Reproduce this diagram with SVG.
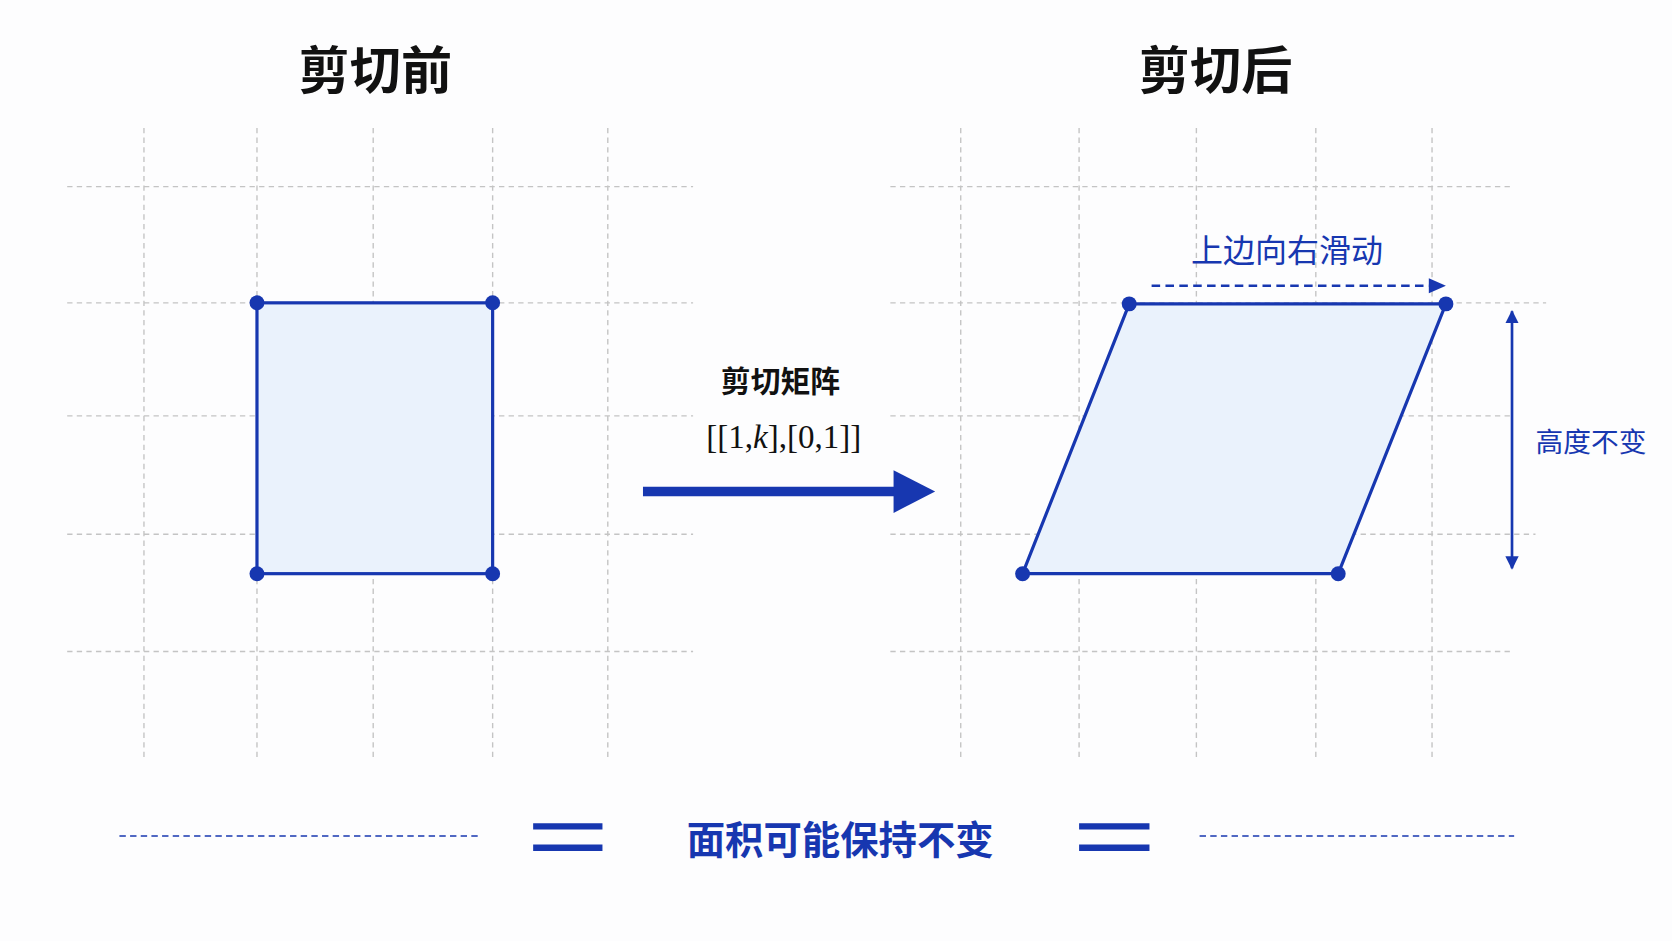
<svg xmlns="http://www.w3.org/2000/svg" width="1672" height="941" viewBox="0 0 1672 941">
<style>
.g{stroke:#c4c4c4;stroke-width:1.3;stroke-dasharray:5 4;fill:none}
.b{stroke:#1737b0;fill:none}
.t{font-family:"Noto Sans CJK SC",sans-serif}
.d{fill:#1737b0}
</style>
<defs>
<marker id="ah" viewBox="0 0 10 10" refX="9" refY="5" markerWidth="5" markerHeight="5" orient="auto-start-reverse"><path d="M0,0L10,5L0,10z" fill="#1737b0"/></marker>
</defs>
<rect width="1672" height="941" fill="#fdfdfe"/>
<g transform="scale(1.0663)">
<g id="grid-left">
<path class="g" d="M135,120V710M241,120V710M350,120V710M462,120V710M570,120V710M63,175H650M63,284H650M63,390H650M63,501H650M63,611H650"/>
</g>
<g id="grid-right">
<path class="g" d="M901,120V710M1012,120V710M1122,120V710M1234,120V710M1343,120V710M835,175H1420M835,284H1450M835,390H1420M835,501H1440M835,611H1420"/>
</g>
<g id="title-before"><text class="t" x="352" y="83" font-size="48" font-weight="700" text-anchor="middle" fill="#111">剪切前</text></g>
<g id="title-after"><text class="t" x="1140" y="83" font-size="48" font-weight="700" text-anchor="middle" fill="#111">剪切后</text></g>
<g id="rect">
<rect x="241" y="284" width="221" height="254" fill="#eaf2fc" stroke="#1737b0" stroke-width="3"/>
<circle class="d" cx="241" cy="284" r="7"/><circle class="d" cx="462" cy="284" r="7"/>
<circle class="d" cx="241" cy="538" r="7"/><circle class="d" cx="462" cy="538" r="7"/>
</g>
<g id="parallelogram">
<polygon points="1059,285 1356,285 1255,538 959,538" fill="#eaf2fc" stroke="#1737b0" stroke-width="3"/>
<circle class="d" cx="1059" cy="285" r="7"/><circle class="d" cx="1356" cy="285" r="7"/>
<circle class="d" cx="1255" cy="538" r="7"/><circle class="d" cx="959" cy="538" r="7"/>
</g>
<g id="matrix-label">
<text class="t" x="732" y="368" font-size="28" font-weight="700" text-anchor="middle" fill="#111">剪切矩阵</text>
<text x="735" y="420" font-size="31" font-family="Liberation Serif,serif" text-anchor="middle" fill="#111">[[1,<tspan font-style="italic">k</tspan>],[0,1]]</text>
</g>
<g id="connectors">
<line class="b" x1="603" y1="461" x2="845" y2="461" stroke-width="9"/>
<polygon class="d" points="838,441 877,461 838,481"/>
<line class="b" x1="1080" y1="268" x2="1343" y2="268" stroke-width="2.5" stroke-dasharray="8 5"/>
<polygon class="d" points="1340,261 1356,268 1340,275"/>
<line class="b" x1="1418" y1="292" x2="1418" y2="533" stroke-width="2.5" marker-start="url(#ah)" marker-end="url(#ah)"/>
<line class="b" x1="112" y1="784" x2="450" y2="784" stroke-width="1.5" stroke-dasharray="6 4"/>
<line class="b" x1="1125" y1="784" x2="1420" y2="784" stroke-width="1.5" stroke-dasharray="6 4"/>
<path class="b" d="M500,775H565M500,795H565M1012,775H1078M1012,795H1078" stroke-width="6"/>
</g>
<g id="slide-label"><text class="t" x="1207" y="246" font-size="30" text-anchor="middle" fill="#1737b0">上边向右滑动</text></g>
<g id="height-label"><text class="t" x="1492" y="424" font-size="26" text-anchor="middle" fill="#1737b0">高度不变</text></g>
<g id="area-label"><text class="t" x="788" y="801" font-size="36" font-weight="700" text-anchor="middle" fill="#1737b0">面积可能保持不变</text></g>
</g>
</svg>
